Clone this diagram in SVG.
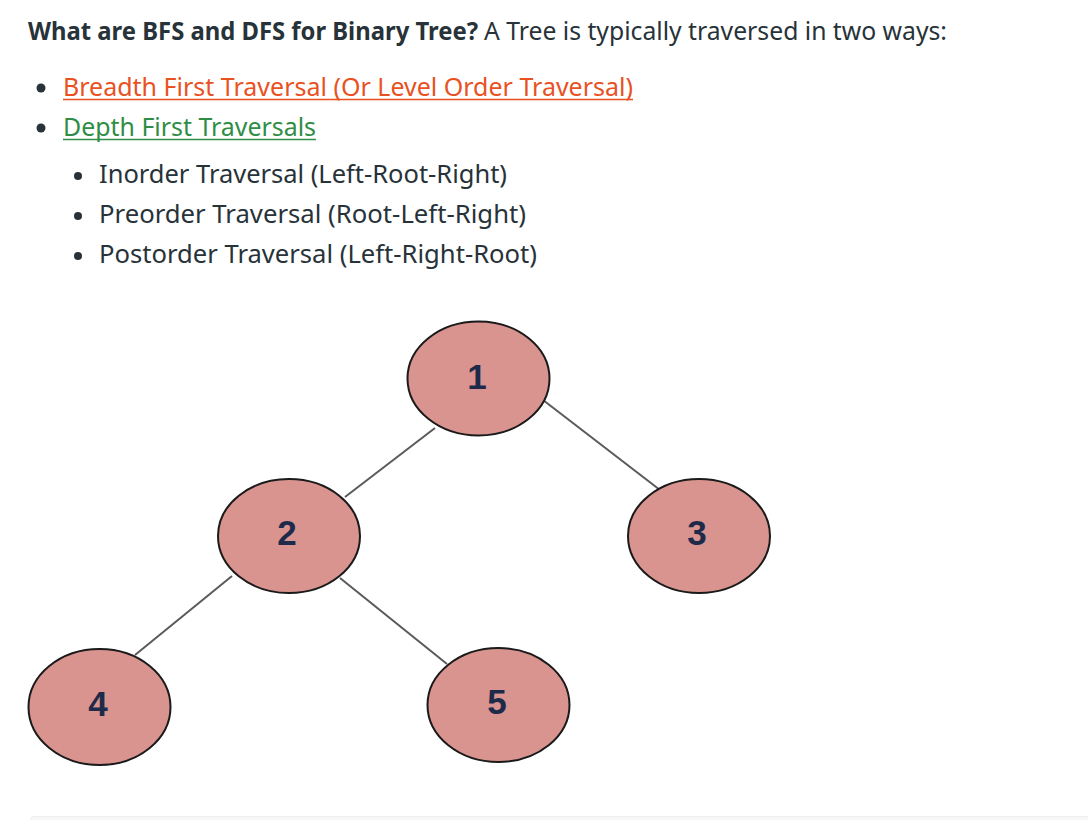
<svg xmlns="http://www.w3.org/2000/svg" width="1088" height="820" viewBox="0 0 1088 820">
<style>
.t{font-family:"Noto Sans","Open Sans","Liberation Sans",sans-serif;font-size:25px;fill:#273239}
.b{font-weight:bold}
.nd{fill:#d9948f;stroke:#1a1a1a;stroke-width:2}
.num{font-family:"Liberation Sans",Arial,sans-serif;font-weight:bold;font-size:35px;fill:#1e2a4a;text-anchor:middle}
.e{stroke:#5a5a5a;stroke-width:2}
</style>
<rect width="1088" height="820" fill="#fff"/>
<g id="text">
<text class="t" y="39.5"><tspan class="b" x="28" textLength="450" lengthAdjust="spacingAndGlyphs">What are BFS and DFS for Binary Tree?</tspan><tspan x="484" textLength="463" lengthAdjust="spacingAndGlyphs">A Tree is typically traversed in two ways:</tspan></text>
<circle cx="41" cy="88" r="4.5" fill="#273239"/>
<text class="t" x="63" y="95.5" style="fill:#e9511f" textLength="570" lengthAdjust="spacingAndGlyphs">Breadth First Traversal (Or Level Order Traversal)</text>
<line x1="63" y1="99.5" x2="633" y2="99.5" stroke="#e9511f" stroke-width="1.5"/>
<circle cx="41" cy="128" r="4.5" fill="#273239"/>
<text class="t" x="63" y="135.5" style="fill:#2f8d46" textLength="253" lengthAdjust="spacingAndGlyphs">Depth First Traversals</text>
<line x1="63" y1="139.5" x2="316" y2="139.5" stroke="#2f8d46" stroke-width="1.5"/>
<circle cx="78" cy="176" r="4" fill="#273239"/>
<text class="t" x="99" y="183" textLength="408" lengthAdjust="spacingAndGlyphs">Inorder Traversal (Left-Root-Right)</text>
<circle cx="78" cy="216" r="4" fill="#273239"/>
<text class="t" x="99" y="223" textLength="427" lengthAdjust="spacingAndGlyphs">Preorder Traversal (Root-Left-Right)</text>
<circle cx="78" cy="256" r="4" fill="#273239"/>
<text class="t" x="99" y="263" textLength="438" lengthAdjust="spacingAndGlyphs">Postorder Traversal (Left-Right-Root)</text>
</g>
<g id="edges">
<line class="e" x1="435" y1="428" x2="345" y2="497"/>
<line class="e" x1="543" y1="400" x2="660" y2="490"/>
<line class="e" x1="232" y1="576" x2="135" y2="655"/>
<line class="e" x1="340" y1="578" x2="447" y2="664"/>
</g>
<g id="n1"><ellipse class="nd" cx="478.5" cy="378.5" rx="71" ry="57"/><text class="num" x="477" y="389">1</text></g>
<g id="n2"><ellipse class="nd" cx="289" cy="536" rx="71" ry="57"/><text class="num" x="287" y="545">2</text></g>
<g id="n3"><ellipse class="nd" cx="699" cy="536" rx="71" ry="57"/><text class="num" x="697" y="545">3</text></g>
<g id="n4"><ellipse class="nd" cx="99.5" cy="707" rx="71" ry="58"/><text class="num" x="98" y="716">4</text></g>
<g id="n5"><ellipse class="nd" cx="498.5" cy="705" rx="71" ry="57"/><text class="num" x="497" y="714">5</text></g>
<rect x="30" y="816.5" width="1090" height="20" rx="4" fill="#f7f7f7" stroke="#eeeeee"/>
</svg>
